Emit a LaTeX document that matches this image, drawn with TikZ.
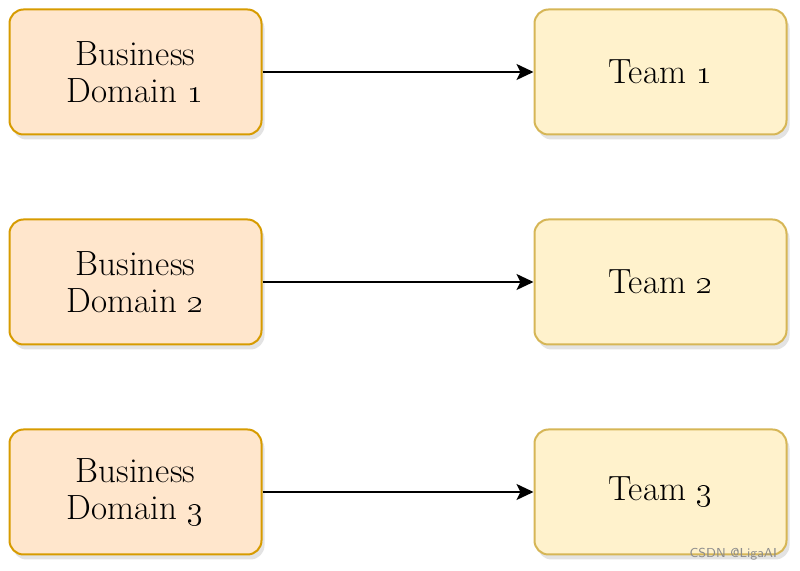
\documentclass[tikz,border=0pt]{standalone}
\usetikzlibrary{arrows.meta,shadows}
\definecolor{bizfill}{HTML}{FFE6CC}
\definecolor{bizline}{HTML}{D79B00}
\definecolor{teamfill}{HTML}{FFF2CC}
\definecolor{teamline}{HTML}{D6B656}
\begin{document}
\begin{tikzpicture}[x=0.5pt,y=-0.5pt,
  card/.style={rounded corners=7pt,line width=1pt,minimum width=126pt,
    minimum height=62.5pt,inner sep=0pt,align=center,
    font=\fontsize{17.5}{18.5}\selectfont,
    drop shadow={shadow xshift=1.5pt,shadow yshift=-2.5pt,opacity=.22}},
  bizbox/.style={card,draw=bizline,fill=bizfill},
  teambox/.style={card,draw=teamline,fill=teamfill},
  link/.style={line width=.8pt,-{Stealth[length=8.5pt,width=8pt,inset=2pt]}}]
  \useasboundingbox (0,0) rectangle (800,571);
  \foreach \i/\y in {1/72,2/282,3/492}{
    \node[bizbox] (bd\i) at (135.5,\y) {Business\\Domain \oldstylenums{\i}};
    \node[teambox] (team\i) at (660.5,\y) {Team \oldstylenums{\i}};
    \draw[link] (bd\i) -- (team\i);
  }
  % watermark
  \node[font=\sffamily\fontsize{6.5}{7}\selectfont,text=black!45,anchor=east]
    (mark) at (784,554) {CSDN @LigaAI};
\end{tikzpicture}
\end{document}
